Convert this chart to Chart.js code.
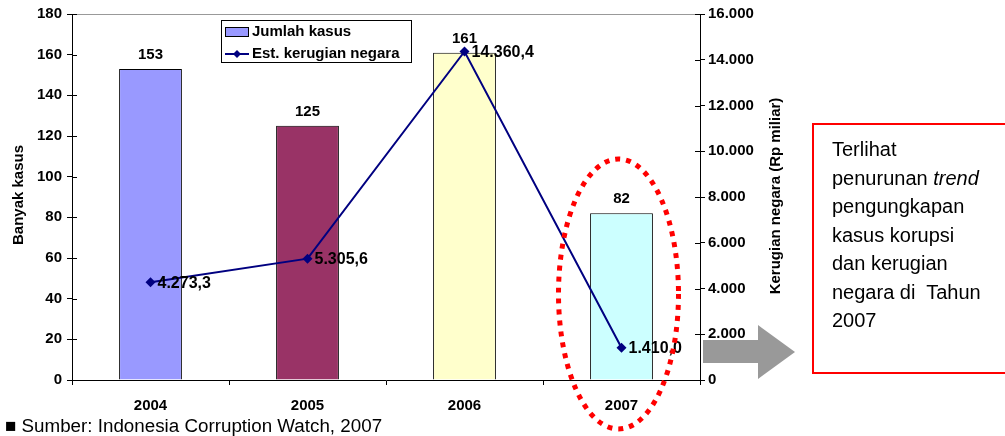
<!DOCTYPE html>
<html>
<head>
<meta charset="utf-8">
<script src="https://cdn.jsdelivr.net/npm/chart.js@4/dist/chart.umd.min.js"></script>
<style>
    body { margin: 0; background: #fff; font-family: "Liberation Sans", Arial, sans-serif; }
    #wrap { position: relative; width: 1005px; height: 436px; overflow: hidden; }
    #grafico { position: absolute; left: 0; top: 0; }
    #flecha { position: absolute; left: 0; top: 0; pointer-events: none; }
    #nota {
        position: absolute; left: 812px; top: 123px; width: 210px; height: 251px;
        border: 2px solid #ff0000; box-sizing: border-box;
        font-size: 20px; line-height: 28.5px; color: #000;
        padding: 10px 0 0 18px;
    }
    #fuente { position: absolute; left: 5px; top: 416px; font-size: 18.8px; line-height: 20px; color: #000; }
</style>
</head>
<body>
<div id="wrap">
    <canvas id="grafico" width="1005" height="436"></canvas>
    <svg id="flecha" width="1005" height="436">
        <polygon points="703,340 758,340 758,325 795,352 758,379 758,363 703,363" fill="#999999"/>
    </svg>
    <div id="nota">Terlihat<br>penurunan <i>trend</i><br>pengungkapan<br>kasus korupsi<br>dan kerugian<br>negara di&nbsp; Tahun<br>2007</div>
    <div id="fuente">&#9632; Sumber: Indonesia Corruption Watch, 2007</div>
</div>
<script>
// ==========================================
// Kasus korupsi vs kerugian negara
// ==========================================

const tahun = ["2004", "2005", "2006", "2007"];
const jumlahKasus = [153, 125, 161, 82];
const kerugianNegara = [4273.3, 5305.6, 14360.4, 1410.0];
const warnaBatang = ["#9999ff", "#993366", "#ffffcc", "#ccffff"];

const ticksKiri = { min: 0, max: 180, step: 20 };
const ticksKanan = { min: 0, max: 16000, step: 2000 };

const FUENTE = "Liberation Sans";
const negrita = { family: FUENTE, size: 15, weight: "bold" };

function formatoRibu(v, desimal) {
    return v.toLocaleString("de-DE", {
        minimumFractionDigits: desimal,
        maximumFractionDigits: desimal
    });
}

function teksTegak(ctx, teks, x, y) {
    ctx.save();
    ctx.translate(x, y);
    ctx.rotate(-Math.PI / 2);
    ctx.fillText(teks, 0, 0);
    ctx.restore();
}

const pluginExtra = {
    id: "extra",
    afterDatasetsDraw(chart) {
        const ctx = chart.ctx;
        const area = chart.chartArea;
        ctx.save();

        // garis atas area plot
        ctx.strokeStyle = "#999999";
        ctx.lineWidth = 1;
        ctx.beginPath();
        ctx.moveTo(area.left, area.top + 0.5);
        ctx.lineTo(area.right, area.top + 0.5);
        ctx.stroke();

        // tick bagian dalam sumbu
        ctx.strokeStyle = "#000";
        const kiri = chart.scales.y;
        const kanan = chart.scales.y1;
        kiri.ticks.forEach(t => {
            const y = Math.round(kiri.getPixelForValue(t.value)) + 0.5;
            ctx.beginPath();
            ctx.moveTo(area.left, y);
            ctx.lineTo(area.left + 5, y);
            ctx.stroke();
        });
        kanan.ticks.forEach(t => {
            const y = Math.round(kanan.getPixelForValue(t.value)) + 0.5;
            ctx.beginPath();
            ctx.moveTo(area.right - 5, y);
            ctx.lineTo(area.right, y);
            ctx.stroke();
        });

        // judul sumbu
        ctx.fillStyle = "#000";
        ctx.font = "bold 15px " + FUENTE;
        ctx.textAlign = "center";
        ctx.textBaseline = "middle";
        teksTegak(ctx, "Banyak kasus", 19, 195);
        teksTegak(ctx, "Kerugian negara (Rp miliar)", 776, 196);

        // label batang
        chart.getDatasetMeta(1).data.forEach((bar, i) => {
            ctx.fillText(String(jumlahKasus[i]), bar.x, bar.y - 14);
        });

        // label garis
        ctx.font = "bold 16px " + FUENTE;
        ctx.textAlign = "left";
        chart.getDatasetMeta(0).data.forEach((pt, i) => {
            ctx.fillText(formatoRibu(kerugianNegara[i], 1), pt.x + 7, pt.y + 1);
        });

        // legenda
        ctx.font = "bold 15px " + FUENTE;
        ctx.fillStyle = "#fff";
        ctx.fillRect(221, 20, 191, 43);
        ctx.strokeStyle = "#000";
        ctx.strokeRect(221.5, 20.5, 190, 42);
        ctx.fillStyle = warnaBatang[0];
        ctx.fillRect(225, 27, 24, 10);
        ctx.strokeRect(225.5, 27.5, 23, 9);
        ctx.fillStyle = "#000";
        ctx.fillText("Jumlah kasus", 252, 32);
        ctx.strokeStyle = "#000080";
        ctx.lineWidth = 2;
        ctx.beginPath();
        ctx.moveTo(225, 54);
        ctx.lineTo(249, 54);
        ctx.stroke();
        ctx.fillStyle = "#000080";
        ctx.beginPath();
        ctx.moveTo(237, 50);
        ctx.lineTo(241, 54);
        ctx.lineTo(237, 58);
        ctx.lineTo(233, 54);
        ctx.closePath();
        ctx.fill();
        ctx.fillStyle = "#000";
        ctx.fillText("Est. kerugian negara", 252, 54);

        // elips merah putus-putus
        const cx = chart.scales.x.getPixelForValue(3) - 3;
        ctx.strokeStyle = "#ff0000";
        ctx.lineWidth = 5;
        ctx.setLineDash([5, 6]);
        ctx.beginPath();
        ctx.ellipse(cx, 294, 60, 135, 0, 0, Math.PI * 2);
        ctx.stroke();

        ctx.restore();
    }
};

new Chart(document.getElementById("grafico"), {
    data: {
        labels: tahun,
        datasets: [
            {
                type: "line",
                label: "Est. kerugian negara",
                data: kerugianNegara,
                yAxisID: "y1",
                borderColor: "#000080",
                backgroundColor: "#000080",
                borderWidth: 2,
                pointStyle: "rectRot",
                pointRadius: 5,
                pointBackgroundColor: "#000080",
                pointBorderWidth: 0,
                tension: 0,
                order: 0
            },
            {
                type: "bar",
                label: "Jumlah kasus",
                data: jumlahKasus,
                yAxisID: "y",
                backgroundColor: warnaBatang,
                borderColor: "#000",
                borderWidth: 1,
                categoryPercentage: 1,
                barPercentage: 0.4,
                order: 1
            }
        ]
    },
    options: {
        responsive: false,
        animation: false,
        devicePixelRatio: 1,
        layout: { padding: { left: 0, right: 220, top: 13, bottom: 0 } },
        plugins: {
            legend: { display: false },
            tooltip: { enabled: false }
        },
        scales: {
            x: {
                grid: { display: true, drawOnChartArea: false, drawTicks: true, tickLength: 5, color: "#000" },
                border: { color: "#000", width: 1 },
                ticks: { color: "#000", font: negrita, padding: 12 },
                afterFit: s => { s.height = 56; }
            },
            y: {
                position: "left",
                min: ticksKiri.min,
                max: ticksKiri.max,
                ticks: { stepSize: ticksKiri.step, color: "#000", font: negrita, padding: 5 },
                grid: { drawOnChartArea: false, tickLength: 5, color: "#000" },
                border: { color: "#000", width: 1 },
                afterFit: s => { s.width = 72; }
            },
            y1: {
                position: "right",
                min: ticksKanan.min,
                max: ticksKanan.max,
                ticks: {
                    stepSize: ticksKanan.step,
                    color: "#000",
                    font: negrita,
                    padding: 3,
                    callback: v => formatoRibu(v, 0)
                },
                grid: { drawOnChartArea: false, tickLength: 5, color: "#000" },
                border: { color: "#000", width: 1 },
                afterFit: s => { s.width = 85; }
            }
        }
    },
    plugins: [pluginExtra]
});
</script>
</body>
</html>
